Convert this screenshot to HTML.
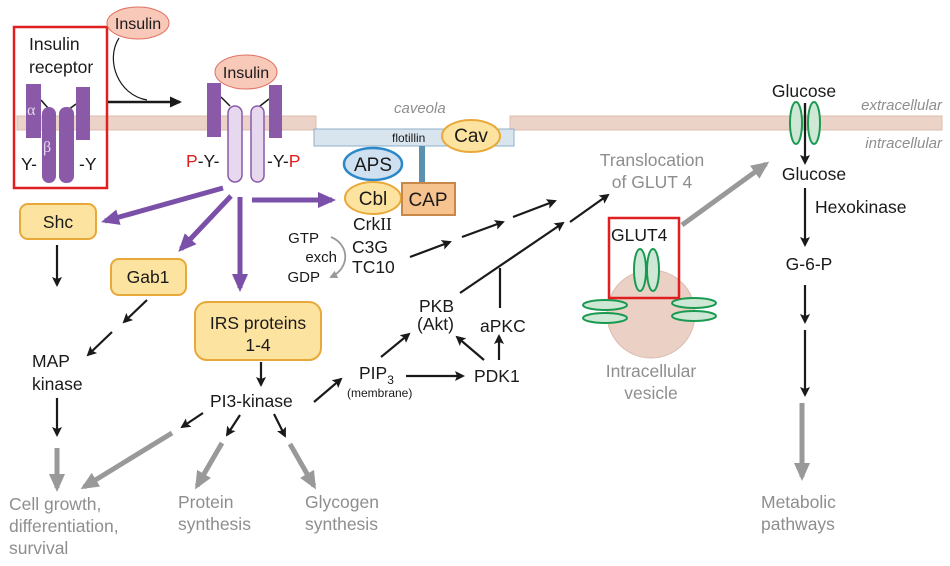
<!DOCTYPE html>
<html><head><meta charset="utf-8"><style>
html,body{margin:0;padding:0;background:#fff}
svg{display:block}
text{font-family:"Liberation Sans",sans-serif;font-size:17.5px;fill:#1a1a1a}
.g{fill:#8e8e8e}
.it{font-style:italic;fill:#8e8e8e;font-size:15px}
</style></head><body>
<svg width="950" height="566" viewBox="0 0 950 566">
<defs>
<marker id="ab" markerWidth="10" markerHeight="10" refX="8" refY="5" orient="auto" markerUnits="userSpaceOnUse"><path d="M0,0 L10,5 L0,10 L2,5 Z" fill="#1a1a1a"/></marker>
<marker id="ab2" markerWidth="12" markerHeight="11" refX="10" refY="5.5" orient="auto" markerUnits="userSpaceOnUse"><path d="M0,0 L12,5.5 L0,11 Z" fill="#1a1a1a"/></marker>
<marker id="ap" markerWidth="18" markerHeight="16" refX="14" refY="8" orient="auto" markerUnits="userSpaceOnUse"><path d="M0,0 L18,8 L0,16 Z" fill="#7a50a8"/></marker>
<marker id="ag" markerWidth="18" markerHeight="16" refX="14" refY="8" orient="auto" markerUnits="userSpaceOnUse"><path d="M0,0 L18,8 L0,16 Z" fill="#999"/></marker>
<marker id="ags" markerWidth="8" markerHeight="8" refX="6" refY="4" orient="auto" markerUnits="userSpaceOnUse"><path d="M0,0 L8,4 L0,8 Z" fill="#999"/></marker>
</defs>

<rect x="17" y="116" width="299" height="14" fill="#ecd3c8" stroke="#dcbcae"/>
<rect x="510" y="116" width="432" height="14" fill="#ecd3c8" stroke="#dcbcae"/>
<rect x="314" y="129" width="200" height="17" fill="#d8e4ee" stroke="#8fb0c8"/>
<text x="392" y="142" style="font-size:12px">flotillin</text>
<text class="it" x="394" y="113">caveola</text>
<text class="it" x="942" y="110" text-anchor="end">extracellular</text>
<text class="it" x="942" y="148" text-anchor="end">intracellular</text>
<rect x="419" y="146" width="6" height="37" fill="#5a90b0"/>
<ellipse cx="471" cy="136" rx="29" ry="16" fill="#fde3a0" stroke="#e8a93a" stroke-width="2"/>
<text x="471" y="142" text-anchor="middle" style="font-size:19px">Cav</text>

<rect x="14" y="27" width="93" height="161" fill="none" stroke="#e02020" stroke-width="2.5"/>
<text x="29" y="50">Insulin</text>
<text x="29" y="73">receptor</text>
<ellipse cx="138" cy="23" rx="31" ry="16" fill="#f8c8b8" stroke="#e07060"/>
<text x="138" y="29" text-anchor="middle" style="font-size:16px">Insulin</text>
<path d="M119,38 C105,60 118,95 147,100" fill="none" stroke="#1a1a1a" stroke-width="1.2"/>
<line x1="108" y1="102" x2="180" y2="102" stroke="#1a1a1a" stroke-width="2.5" marker-end="url(#ab2)"/>
<path d="M41,100 L48,108 M76,104 L68,110" stroke="#1a1a1a" stroke-width="1.5"/>
<rect x="26" y="84" width="15" height="54" fill="#8a5aa8"/>
<rect x="76" y="87" width="14" height="53" fill="#8a5aa8"/>
<rect x="42" y="107" width="14" height="76" rx="7" fill="#8a5aa8"/>
<rect x="59" y="107" width="15" height="76" rx="7" fill="#8a5aa8"/>
<text x="27" y="115" style="fill:#e6d8ee;font-size:16px;font-family:'Liberation Serif',serif">α</text>
<text x="43" y="152" style="fill:#e6d8ee;font-size:16px;font-family:'Liberation Serif',serif">β</text>
<text x="21" y="170">Y-</text>
<text x="79" y="170">-Y</text>

<path d="M221,97 L230,106 M269,99 L260,106" stroke="#1a1a1a" stroke-width="1.5"/>
<rect x="207" y="83" width="14" height="54" fill="#8a5aa8"/>
<rect x="269" y="85" width="13" height="53" fill="#8a5aa8"/>
<rect x="228" y="106" width="14" height="76" rx="7" fill="#e6d8ee" stroke="#8a5aa8" stroke-width="1.5"/>
<rect x="251" y="106" width="13" height="76" rx="6.5" fill="#e6d8ee" stroke="#8a5aa8" stroke-width="1.5"/>
<ellipse cx="246" cy="72" rx="31" ry="17" fill="#f8c8b8" stroke="#e07060"/>
<text x="246" y="78" text-anchor="middle" style="font-size:16px">Insulin</text>
<text x="186" y="167"><tspan style="fill:#e02020">P</tspan>-Y-</text>
<text x="267" y="167">-Y-<tspan style="fill:#e02020">P</tspan></text>

<g stroke="#7a50a8" stroke-width="5" fill="none">
<line x1="223" y1="188" x2="105" y2="221" marker-end="url(#ap)"/>
<line x1="231" y1="196" x2="181" y2="249" marker-end="url(#ap)"/>
<line x1="240" y1="197" x2="240" y2="288" marker-end="url(#ap)"/>
<line x1="252" y1="200" x2="332" y2="200" marker-end="url(#ap)"/>
</g>

<rect x="20" y="204" width="76" height="35" rx="8" fill="#fde3a0" stroke="#e8a93a" stroke-width="2"/>
<text x="58" y="228" text-anchor="middle">Shc</text>
<rect x="111" y="259" width="75" height="36" rx="8" fill="#fde3a0" stroke="#e8a93a" stroke-width="2"/>
<text x="148" y="283" text-anchor="middle">Gab1</text>
<rect x="195" y="302" width="126" height="58" rx="12" fill="#fde3a0" stroke="#e8a93a" stroke-width="2"/>
<text x="258" y="329" text-anchor="middle">IRS proteins</text>
<text x="258" y="351" text-anchor="middle">1-4</text>

<ellipse cx="373" cy="164" rx="29" ry="16" fill="#cfe0f0" stroke="#2a88c8" stroke-width="2.5"/>
<text x="373" y="171" text-anchor="middle" style="font-size:19px">APS</text>
<ellipse cx="373" cy="198" rx="28" ry="16" fill="#fde3a0" stroke="#e8a93a" stroke-width="2"/>
<text x="373" y="205" text-anchor="middle" style="font-size:19px">Cbl</text>
<rect x="402" y="183" width="53" height="32" fill="#f6c28e" stroke="#c8884a" stroke-width="2"/>
<text x="428" y="206" text-anchor="middle" style="font-size:19px">CAP</text>
<text x="353" y="230">Crk<tspan style="font-family:'Liberation Serif',serif">II</tspan></text>
<text x="352" y="253">C3G</text>
<text x="352" y="273">TC10</text>
<text x="319" y="243" text-anchor="end" style="font-size:15px">GTP</text>
<text x="337" y="262" text-anchor="end" style="font-size:15px">exch</text>
<text x="320" y="282" text-anchor="end" style="font-size:15px">GDP</text>
<path d="M331,237 C350,245 350,268 331,277" fill="none" stroke="#999" stroke-width="1.8" marker-end="url(#ags)"/>

<g stroke="#1a1a1a" stroke-width="2.2" fill="none">
<line x1="57" y1="245" x2="57" y2="285" marker-end="url(#ab)"/>
<line x1="147" y1="300" x2="124" y2="322" marker-end="url(#ab)"/>
<line x1="112" y1="332" x2="88" y2="355" marker-end="url(#ab)"/>
<line x1="57" y1="398" x2="57" y2="435" marker-end="url(#ab)"/>
<line x1="261" y1="362" x2="261" y2="385" marker-end="url(#ab)"/>
<line x1="314" y1="402" x2="341" y2="379" marker-end="url(#ab)"/>
<line x1="406" y1="376" x2="463" y2="376" marker-end="url(#ab)"/>
<line x1="381" y1="357" x2="409" y2="334" marker-end="url(#ab)"/>
<line x1="484" y1="360" x2="457" y2="337" marker-end="url(#ab)"/>
<line x1="499" y1="360" x2="499" y2="336" marker-end="url(#ab)"/>
<line x1="203" y1="413" x2="182" y2="427" marker-end="url(#ab)"/>
<line x1="240" y1="415" x2="227" y2="435" marker-end="url(#ab)"/>
<line x1="274" y1="414" x2="285" y2="436" marker-end="url(#ab)"/>
<line x1="410" y1="257" x2="450" y2="242" marker-end="url(#ab)"/>
<line x1="462" y1="237" x2="503" y2="222" marker-end="url(#ab)"/>
<line x1="513" y1="217" x2="555" y2="201" marker-end="url(#ab)"/>
<line x1="460" y1="293" x2="563" y2="223" marker-end="url(#ab)"/>
<line x1="570" y1="222" x2="608" y2="195" marker-end="url(#ab)"/>
<line x1="500" y1="308" x2="500" y2="268"/>
<line x1="805" y1="103" x2="805" y2="163" marker-end="url(#ab)"/>
<line x1="805" y1="188" x2="805" y2="245" marker-end="url(#ab)"/>
<line x1="805" y1="285" x2="805" y2="322" marker-end="url(#ab)"/>
<line x1="805" y1="330" x2="805" y2="395" marker-end="url(#ab)"/>
</g>

<text x="32" y="367">MAP</text>
<text x="32" y="390">kinase</text>
<text x="210" y="407">PI3-kinase</text>
<text x="359" y="379">PIP<tspan dy="5" style="font-size:12px">3</tspan></text>
<text x="347" y="397" style="font-size:12px">(membrane)</text>
<text x="474" y="382">PDK1</text>
<text x="419" y="312">PKB</text>
<text x="417" y="330">(Akt)</text>
<text x="480" y="332">aPKC</text>

<g stroke="#999" stroke-width="5" fill="none">
<line x1="57" y1="448" x2="57" y2="488" marker-end="url(#ag)"/>
<line x1="172" y1="433" x2="84" y2="487" marker-end="url(#ag)"/>
<line x1="222" y1="443" x2="197" y2="486" marker-end="url(#ag)"/>
<line x1="290" y1="444" x2="314" y2="486" marker-end="url(#ag)"/>
<line x1="682" y1="225" x2="766" y2="164" marker-end="url(#ag)"/>
<line x1="802" y1="403" x2="802" y2="477" marker-end="url(#ag)"/>
</g>
<text class="g" x="9" y="510">Cell growth,</text>
<text class="g" x="9" y="532">differentiation,</text>
<text class="g" x="9" y="554">survival</text>
<text class="g" x="178" y="508">Protein</text>
<text class="g" x="178" y="530">synthesis</text>
<text class="g" x="305" y="508">Glycogen</text>
<text class="g" x="305" y="530">synthesis</text>
<text class="g" x="761" y="508">Metabolic</text>
<text class="g" x="761" y="530">pathways</text>

<text class="g" x="652" y="166" text-anchor="middle">Translocation</text>
<text class="g" x="652" y="188" text-anchor="middle">of GLUT 4</text>
<circle cx="651" cy="314" r="44" fill="#ebd0c6" stroke="#dcbcae"/>
<g fill="#cfe8d6" stroke="#1a9a50" stroke-width="2">
<ellipse cx="640" cy="270" rx="6" ry="21"/>
<ellipse cx="653" cy="270" rx="6" ry="21"/>
<ellipse cx="605" cy="305" rx="22" ry="5"/>
<ellipse cx="605" cy="318" rx="22" ry="5"/>
<ellipse cx="694" cy="303" rx="22" ry="5"/>
<ellipse cx="694" cy="316" rx="22" ry="5"/>
<ellipse cx="796" cy="123" rx="6" ry="21"/>
<ellipse cx="814" cy="123" rx="6" ry="21"/>
</g>
<line x1="805" y1="103" x2="805" y2="130" stroke="#1a1a1a" stroke-width="2.2"/>
<rect x="609" y="218" width="70" height="80" fill="none" stroke="#e02020" stroke-width="2.5"/>
<text x="611" y="241">GLUT4</text>
<text class="g" x="651" y="377" text-anchor="middle">Intracellular</text>
<text class="g" x="651" y="399" text-anchor="middle">vesicle</text>
<text x="804" y="97" text-anchor="middle">Glucose</text>
<text x="814" y="180" text-anchor="middle">Glucose</text>
<text x="815" y="213">Hexokinase</text>
<text x="809" y="270" text-anchor="middle">G-6-P</text>
</svg>
</body></html>
